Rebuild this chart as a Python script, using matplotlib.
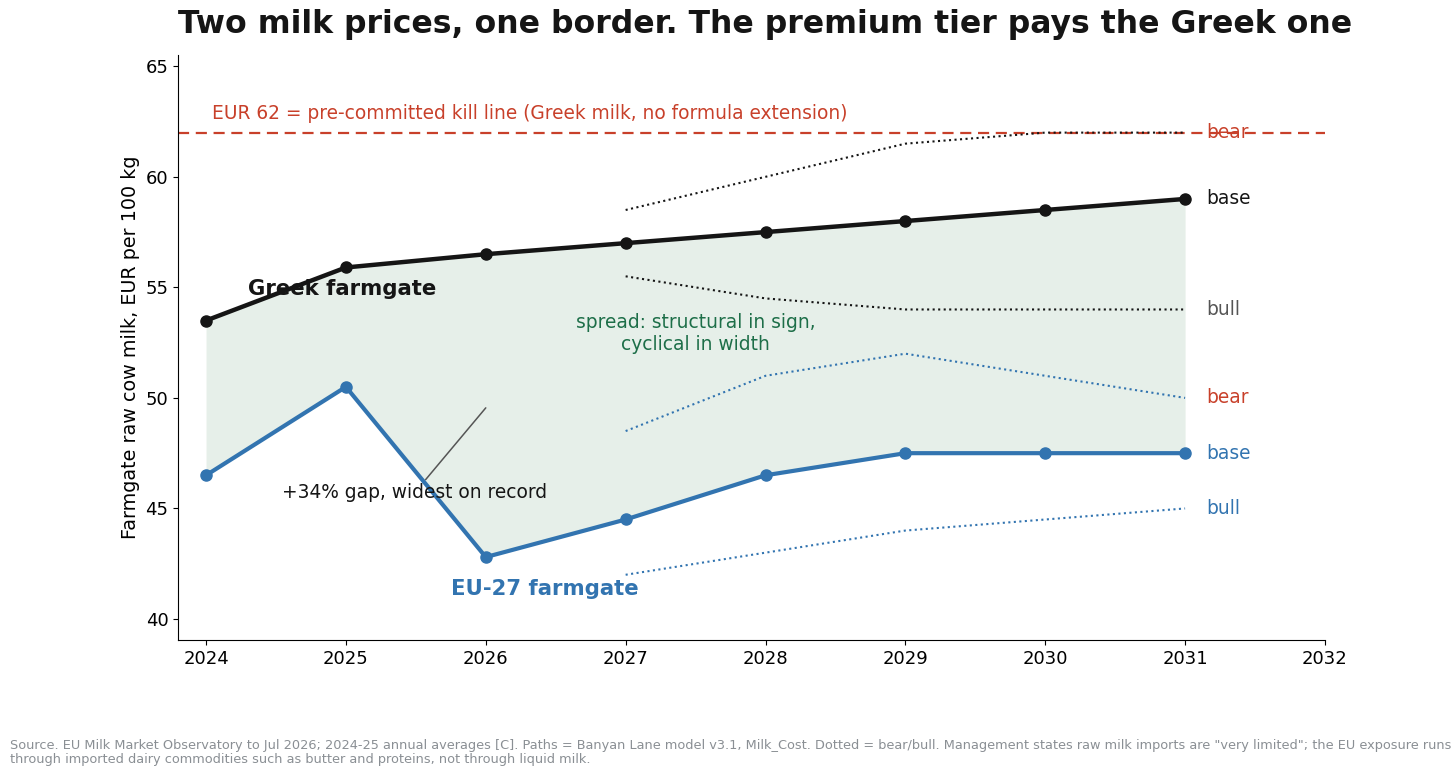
import numpy as np
import matplotlib
matplotlib.use("Agg")
import matplotlib.pyplot as plt

# data
years = [2024, 2025, 2026, 2027, 2028, 2029, 2030, 2031]
greek = [53.5, 55.9, 56.5, 57.0, 57.5, 58.0, 58.5, 59.0]
eu27 = [46.5, 50.5, 42.8, 44.5, 46.5, 47.5, 47.5, 47.5]

scen_years = [2027, 2028, 2029, 2030, 2031]
greek_bear = [58.5, 60.0, 61.5, 62.0, 62.0]
greek_bull = [55.5, 54.5, 54.0, 54.0, 54.0]
eu_bear = [48.5, 51.0, 52.0, 51.0, 50.0]
eu_bull = [42.0, 43.0, 44.0, 44.5, 45.0]

kill_line = 62

BLACK = "#151515"
BLUE = "#3274b0"
RED = "#c8402a"
GREEN = "#1d6e48"
FILL = "#e6efe9"
FS = 13.4

fig = plt.figure(figsize=(14.56, 7.78), dpi=100)
ax = fig.add_axes([0.1223, 0.1774, 0.7877, 0.7516])

ax.fill_between(years, eu27, greek, color=FILL, lw=0, zorder=1)

ax.axhline(kill_line, color=RED, ls="--", lw=1.6, dashes=(5, 3), zorder=2)
ax.text(2024.04, kill_line + 0.42, "EUR 62 = pre-committed kill line (Greek milk, no formula extension)",
        color=RED, fontsize=FS, ha="left", va="bottom")

ax.plot(scen_years, greek_bear, color=BLACK, ls=":", lw=1.5, zorder=3)
ax.plot(scen_years, greek_bull, color=BLACK, ls=":", lw=1.5, zorder=3)
ax.plot(scen_years, eu_bear, color=BLUE, ls=":", lw=1.5, zorder=3)
ax.plot(scen_years, eu_bull, color=BLUE, ls=":", lw=1.5, zorder=3)

ax.plot(years, greek, color=BLACK, lw=3.2, marker="o", ms=8, zorder=5)
ax.plot(years, eu27, color=BLUE, lw=3.0, marker="o", ms=8, zorder=5)

lx = 2031.15
ax.text(lx, greek_bear[-1], "bear", color=RED, fontsize=FS, va="center", ha="left")
ax.text(lx, greek[-1], "base", color=BLACK, fontsize=FS, va="center", ha="left")
ax.text(lx, greek_bull[-1], "bull", color="#555555", fontsize=FS, va="center", ha="left")
ax.text(lx, eu_bear[-1], "bear", color=RED, fontsize=FS, va="center", ha="left")
ax.text(lx, eu27[-1], "base", color=BLUE, fontsize=FS, va="center", ha="left")
ax.text(lx, eu_bull[-1], "bull", color=BLUE, fontsize=FS, va="center", ha="left")

ax.text(2024.3, 54.92, "Greek farmgate", color=BLACK, fontsize=15.3, fontweight="bold",
        ha="left", va="center", zorder=6)
ax.text(2026.42, 41.35, "EU-27 farmgate", color=BLUE, fontsize=15.3, fontweight="bold",
        ha="center", va="center", zorder=6)
ax.text(2027.5, 52.9, "spread: structural in sign,\ncyclical in width", color=GREEN,
        fontsize=FS, ha="center", va="center", zorder=6)

ax.annotate("+34% gap, widest on record", xy=(2026, 49.55), xytext=(2025.49, 45.7),
            fontsize=FS, ha="center", va="center", color=BLACK,
            arrowprops=dict(arrowstyle="-", color="#555555", lw=1.1, shrinkA=1, shrinkB=0),
            zorder=6)

ax.set_xlim(2023.8, 2032)
ax.set_ylim(39.05, 65.5)
ax.set_xticks(range(2024, 2033))
ax.set_yticks([40, 45, 50, 55, 60, 65])
ax.tick_params(labelsize=13)
ax.set_ylabel("Farmgate raw cow milk, EUR per 100 kg", fontsize=13.8)
ax.spines["top"].set_visible(False)
ax.spines["right"].set_visible(False)

fig.text(765 / 1456, 1 - 25 / 778, "Two milk prices, one border. The premium tier pays the Greek one",
         fontsize=22.7, fontweight="bold", ha="center", va="center", color=BLACK)

fig.text(10 / 1456, 1 - 752 / 778,
         "Source. EU Milk Market Observatory to Jul 2026; 2024-25 annual averages [C]. Paths = Banyan Lane model v3.1, "
         "Milk_Cost. Dotted = bear/bull. Management states raw milk imports are \"very limited\"; the EU exposure runs\n"
         "through imported dairy commodities such as butter and proteins, not through liquid milk.",
         fontsize=9.3, color="#8a8f94", ha="left", va="center", linespacing=1.1)

fig.savefig("out.png", dpi=100)
